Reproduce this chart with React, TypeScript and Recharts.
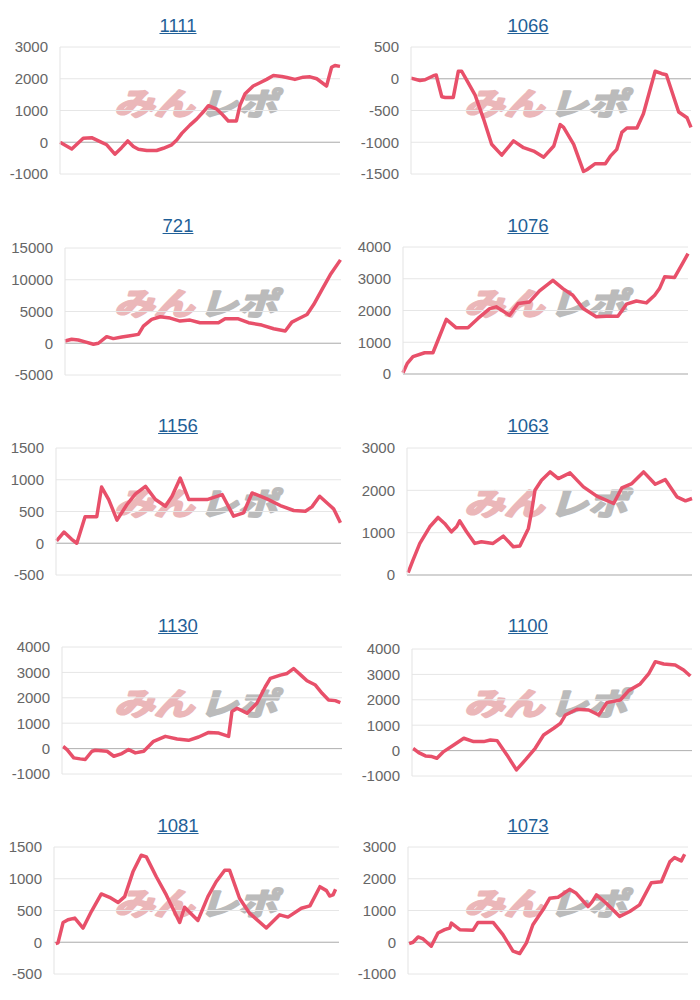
import { LineChart, Line, XAxis, YAxis, CartesianGrid, ReferenceLine } from 'recharts';

// each series: [position along the period (0-100), balance]
const s1111 = [
  [0, 0], [4.2, -210], [8.3, 125], [11.3, 145], [14.3, 20], [16.7, -80], [19.6, -375], [22, -170],
  [24.2, 40], [26.2, -135], [28, -220], [31, -260], [34.5, -260], [36.9, -190], [39.9, -80], [41.7, 70],
  [43.5, 280], [46.4, 540], [48.8, 730], [51.2, 960], [53, 1150], [56, 1040], [57.7, 900], [60.1, 670],
  [63, 670], [64.3, 1170], [66.1, 1530], [69, 1770], [71.4, 1875], [73.8, 1980], [76.2, 2100], [79.2, 2070],
  [81, 2040], [83.9, 1980], [86.9, 2050], [89.3, 2060], [91.7, 2000], [95.2, 1770], [97, 2360], [98.2, 2420],
  [100, 2390],
];
const s1066 = [
  [0, 10], [3.2, -27], [5, -16], [8, 48], [9, 59], [11, -283], [12.2, -294], [15.1, -294], [16.9, 118],
  [18.1, 118], [20.5, -70], [22.9, -257], [25.9, -631], [28.8, -1032], [32.4, -1203], [36.6, -979],
  [40.2, -1086], [43.8, -1139], [47.4, -1235], [51, -1059], [53.3, -722], [54.5, -765], [58.1, -1032],
  [61.6, -1460], [62.8, -1433], [65.8, -1337], [69.4, -1337], [71.2, -1219], [73.5, -1112], [75.3, -845],
  [77.1, -775], [80.7, -775], [83, -551], [87.2, 118], [89.6, 80], [91.2, 64], [95.6, -524], [98.6, -615],
  [100, -765],
];
const s721 = [
  [0, 365], [2.4, 625], [4.8, 520], [7.3, 210], [10.3, -156], [12.1, 0], [15.1, 1040], [17.5, 730],
  [20.6, 990], [23, 1150], [26.6, 1400], [28.4, 2700], [31.4, 3750], [34.5, 4170], [38.1, 3960],
  [41.7, 3490], [45.3, 3650], [48.9, 3230], [55.6, 3230], [58, 3850], [62.8, 3850], [66.5, 3230],
  [71.3, 2860], [75.6, 2290], [79.8, 1930], [82.2, 3330], [84.6, 3850], [87.7, 4530], [90.1, 6090],
  [93.1, 8440], [96.1, 10780], [99.8, 13130],
];
const s1076 = [
  [0, 40], [1.5, 335], [3.5, 545], [7.6, 670], [10.5, 670], [12.3, 1070], [15.2, 1720], [18.7, 1455],
  [22.8, 1455], [26.3, 1750], [30.4, 2060], [32.7, 2115], [37.4, 1850], [40.4, 2220], [44.4, 2270],
  [47.9, 2620], [52.6, 2950], [56.1, 2690], [59.6, 2480], [63.2, 2060], [67.8, 1800], [71.3, 1820],
  [75.4, 1820], [78.4, 2200], [81.9, 2300], [85.4, 2240], [88.3, 2480], [90, 2690], [91.8, 3060],
  [95.3, 3040], [97.7, 3420], [100, 3790],
];
const s1156 = [
  [0.2, 36], [2.8, 177], [5.5, 62], [7.3, 0], [10.2, 417], [14.3, 417], [16, 885], [18.5, 688], [21.4, 365],
  [24.9, 610], [27.9, 776], [31.4, 896], [34.9, 688], [38.4, 583], [40.7, 740], [43.6, 1026], [46.6, 688],
  [53, 688], [58.3, 766], [62.3, 427], [65.8, 479], [68.8, 792], [74, 698], [78.7, 594], [83.4, 516],
  [87.5, 505], [89.8, 573], [92.5, 740], [95.7, 610], [97.4, 542], [99.8, 323],
];
const s1063 = [
  [0.4, 55], [2.1, 353], [4.5, 746], [8, 1139], [10.9, 1359], [13.2, 1218], [15.6, 1021], [17.4, 1139],
  [18.5, 1280], [20.9, 1021], [23.8, 746], [26.1, 786], [30.2, 746], [33.8, 919], [37.3, 668], [39.6, 683],
  [42.6, 1100], [43.8, 1532], [44.9, 2003], [47.2, 2239], [50.2, 2435], [53.1, 2278], [57.2, 2412],
  [61.9, 2082], [66.6, 1862], [72.5, 1689], [75.4, 2058], [78.9, 2160], [83, 2435], [87.1, 2144],
  [90.6, 2254], [94.7, 1846], [97.7, 1752], [100, 1807],
];
const s1130 = [
  [0.4, 91], [1.8, -39], [4.2, -365], [6.5, -404], [8.3, -430], [10.7, -104], [11.9, -65], [16.1, -104],
  [18.5, -300], [21.4, -195], [23.8, -39], [26.2, -169], [29.2, -104], [32.7, 287], [36.9, 482],
  [41.1, 378], [45.2, 326], [48.8, 456], [52.4, 638], [56, 612], [59.5, 482], [60.7, 1459], [62.5, 1590],
  [66.1, 1394], [69.6, 1785], [72.6, 2436], [74.4, 2762], [78, 2893], [80.4, 2958], [82.7, 3153],
  [85.7, 2853], [87.5, 2671], [90.5, 2502], [92.9, 2176], [95.2, 1915], [97.6, 1889], [99.4, 1811],
];
const s1100 = [
  [0.4, 92], [2.4, -79], [4.8, -210], [7.1, -236], [8.9, -302], [11.3, -39], [14.9, 223], [18.5, 485],
  [22, 354], [25.6, 354], [28, 420], [30.4, 393], [33.9, -170], [37.3, -761], [40.5, -367], [44, 92],
  [47, 616], [50.6, 879], [53, 1075], [54.8, 1403], [58.9, 1626], [63.1, 1600], [66.7, 1403], [69.6, 1889],
  [74.4, 1993], [77.4, 2361], [81.5, 2623], [84.5, 3016], [86.9, 3502], [89.9, 3410], [94, 3370],
  [97, 3174], [99.4, 2938],
];
const s1081 = [
  [0.6, -21], [1.4, -10], [3.2, 312], [4.9, 354], [7.3, 380], [10.2, 224], [13.1, 484], [16.6, 760],
  [19.5, 708], [22.5, 625], [24.8, 719], [27.7, 1109], [30.6, 1370], [32.4, 1344], [35.9, 1031],
  [39.4, 745], [44.1, 312], [45.8, 552], [50.5, 344], [54, 719], [56.9, 953], [59.9, 1135], [61.6, 1135],
  [65.1, 693], [68.6, 458], [74.5, 224], [79.2, 432], [82.1, 396], [86.8, 536], [89.8, 573], [93.3, 875],
  [95.6, 813], [96.7, 729], [97.9, 745], [98.8, 833],
];
const s1073 = [
  [0.4, -42], [1.8, 0], [3.6, 167], [5.4, 104], [8.3, -125], [10.7, 292], [13.1, 396], [14.9, 448],
  [15.5, 604], [18.5, 396], [23.2, 375], [25, 625], [30.4, 625], [33.9, 240], [37.5, -281], [39.9, -354],
  [42.3, -21], [44.6, 552], [48.2, 1021], [50.6, 1385], [53.6, 1417], [57.7, 1667], [60.1, 1542],
  [64.3, 1125], [65.8, 1281], [67.3, 1490], [70.8, 1229], [75.6, 813], [79.2, 969], [82.7, 1177],
  [86.9, 1875], [90.5, 1906], [93.5, 2531], [95.2, 2667], [97.6, 2562], [98.8, 2771],
];

const titles = ['1111', '1066', '721', '1076', '1156', '1063', '1130', '1100', '1081', '1073'];
const series = [s1111, s1066, s721, s1076, s1156, s1063, s1130, s1100, s1081, s1073];
const yTicks = [
  [-1000, 0, 1000, 2000, 3000],
  [-1500, -1000, -500, 0, 500],
  [-5000, 0, 5000, 10000, 15000],
  [0, 1000, 2000, 3000, 4000],
  [-500, 0, 500, 1000, 1500],
  [0, 1000, 2000, 3000],
  [-1000, 0, 1000, 2000, 3000, 4000],
  [-1000, 0, 1000, 2000, 3000, 4000],
  [-500, 0, 500, 1000, 1500],
  [-1000, 0, 1000, 2000, 3000],
];

// plot box inside each 350x200 cell: left edge of plot, right edge, top
const plotLeft = [60, 61, 65, 53, 56, 57, 62, 62, 54, 58];
const plotRight = [340, 341, 341, 338, 341, 342, 342, 342, 339, 338];
const plotTop = [47, 47, 48, 47, 48, 48, 47, 49, 47, 47];

const FONT = '"Liberation Sans", Arial, Helvetica, sans-serif';
const LINE = '#e8506a';

function Watermark() {
  return (
    <svg width={350} height={200} style={{ position: 'absolute', left: 0, top: 0 }}>
      <g fontFamily='"Noto Sans CJK JP", sans-serif' fontWeight={700} fontStyle="italic" fontSize={31}>
        <text x={114} y={115} textLength={80} lengthAdjust="spacingAndGlyphs"
          fill="#ebb7b9" stroke="#ebb7b9" strokeWidth={2.2} strokeLinejoin="round">みん</text>
        <text x={199} y={115} textLength={78} lengthAdjust="spacingAndGlyphs"
          fill="#bbbbbb" stroke="#bbbbbb" strokeWidth={2.2} strokeLinejoin="round">レポ</text>
      </g>
    </svg>
  );
}

function MiniChart({ i }: { i: number }) {
  const data = series[i].map(([x, y]) => ({ x, y }));
  const ticks = yTicks[i];
  const col = i % 2;
  const row = Math.floor(i / 2);
  return (
    <div style={{ position: 'absolute', left: col * 350, top: row * 200, width: 350, height: 200 }}>
      <Watermark />
      <div
        style={{
          position: 'absolute', left: 0, width: 356, top: 17, textAlign: 'center',
          fontFamily: FONT, fontSize: 18.5, lineHeight: '18px', color: '#1f5f97', textDecoration: 'underline',
        }}
      >
        {titles[i]}
      </div>
      <div style={{ position: 'absolute', left: 0, top: 0 }}>
        <LineChart
          width={350}
          height={200}
          data={data}
          margin={{ top: plotTop[i], right: 350 - plotRight[i], bottom: 200 - plotTop[i] - 127, left: 0 }}
        >
          <CartesianGrid vertical={false} stroke="#e6e6e6" strokeWidth={1} />
          <XAxis dataKey="x" type="number" domain={[0, 100]} hide />
          <YAxis
            width={plotLeft[i]}
            domain={[ticks[0], ticks[ticks.length - 1]]}
            ticks={ticks}
            interval={0}
            tickLine={false}
            tickMargin={6}
            axisLine={{ stroke: '#e3e3e3' }}
            tick={{ fill: '#666', fontSize: 15, fontFamily: FONT }}
          />
          <ReferenceLine y={0} stroke="#b3b3b3" strokeWidth={1} />
          <Line
            dataKey="y"
            type="linear"
            stroke={LINE}
            strokeWidth={3.5}
            dot={false}
            isAnimationActive={false}
            strokeLinejoin="round"
          />
        </LineChart>
      </div>
    </div>
  );
}

export default function App() {
  return (
    <div style={{ position: 'absolute', left: 0, top: 0, width: 700, height: 1000, background: '#fff' }}>
      {titles.map((_, i) => (
        <MiniChart key={i} i={i} />
      ))}
    </div>
  );
}
